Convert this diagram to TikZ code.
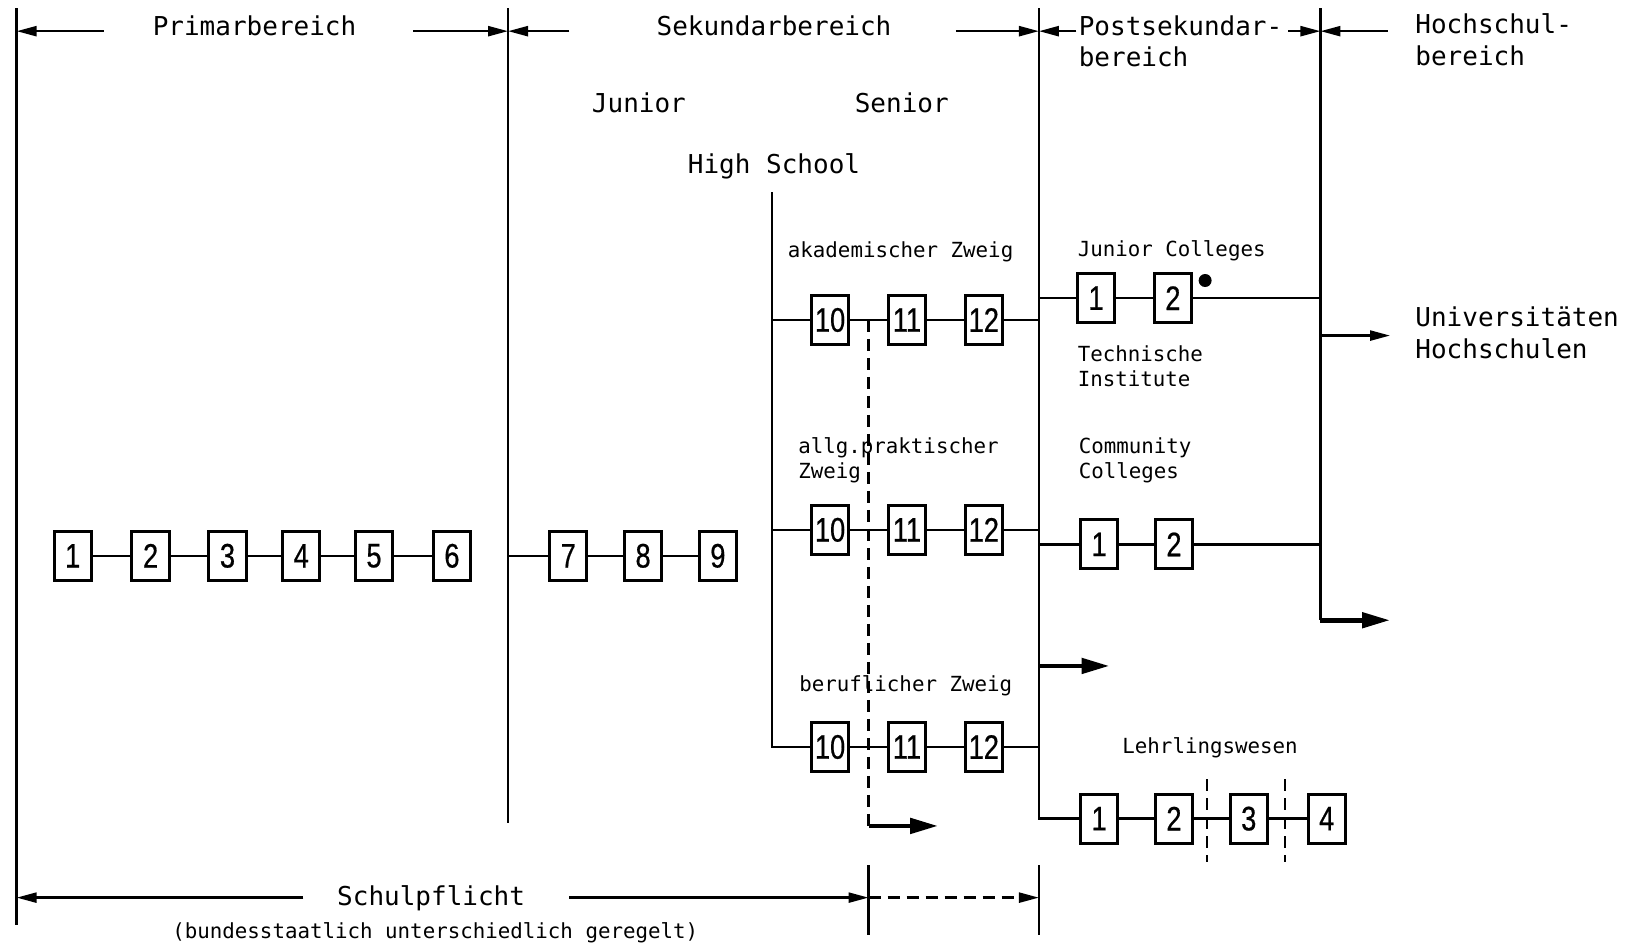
\documentclass[tikz,border=0pt]{standalone}
\usepackage{fontspec}
\usetikzlibrary{arrows.meta}
\newfontfamily\lblfont{DejaVu Sans Mono}
\newfontfamily\digfont[FakeStretch=0.8,FakeBold=0.6]{Liberation Sans}
\begin{document}
\begin{tikzpicture}[x=0.5195pt,y=-0.5195pt,
  box/.style={draw,line width=1.5pt,minimum width=18.7pt,minimum height=24.4pt,inner sep=0pt,font=\digfont\fontsize{17}{17}\selectfont},
  ln/.style={line width=1.2pt},
  arr/.style={line width=1.2pt,-{Triangle[length=10pt,width=5pt]}},
  thickarr/.style={line width=2.4pt,-{Triangle[length=14pt,width=7.5pt]}},
  bigtxt/.style={font=\lblfont\fontsize{13}{16}\selectfont,inner sep=0pt,text height=9.5pt,text depth=0pt},
  smalltxt/.style={font=\lblfont\fontsize{10.4}{12.5}\selectfont,inner sep=0pt,text height=7.6pt,text depth=0pt},
  dsh/.style={line width=1.2pt,dash pattern=on 6pt off 3.5pt}]
\useasboundingbox (0,0) rectangle (1568,910);

% main vertical lines
\coordinate (L0t) at (16,8);   \coordinate (L0b) at (16,890);
\coordinate (L1t) at (489,8);  \coordinate (L1b) at (489,792);
\coordinate (L2t) at (1000,8); \coordinate (L2b) at (1000,788);
\coordinate (L3t) at (1271,8); \coordinate (L3b) at (1271,597);
\coordinate (HSt) at (743,185); \coordinate (HSb) at (743,719);
\draw[ln] (L0t) -- (L0b);
\draw[ln] (L1t) -- (L1b);
\draw[ln] (L3t) -- (L3b);

% top labels and arrows
\node[bigtxt] (prim) at (245,25) {Primarbereich};
\node[bigtxt] (sek) at (745,25) {Sekundarbereich};
\node[bigtxt,anchor=west] (post1) at (1038,25) {Postsekundar-};
\node[bigtxt,anchor=west] (post2) at (1038,55) {bereich};
\node[bigtxt,anchor=west] (hoch1) at (1362,23) {Hochschul-};
\node[bigtxt,anchor=west] (hoch2) at (1362,54) {bereich};
\coordinate (t0) at (16,30);  \coordinate (t1) at (489,30);
\coordinate (t2) at (1000,30); \coordinate (t3) at (1271,30);
\coordinate (a1) at (100,30);  \coordinate (a2) at (398,30);
\coordinate (a3) at (548,30);  \coordinate (a4) at (920,30);
\coordinate (a5) at (1036,30); \coordinate (a6) at (1240,30);
\coordinate (a7) at (1336,30);
\draw[arr] (a1) -- (t0);
\draw[arr] (a2) -- (t1);
\draw[arr] (a3) -- (t1);
\draw[arr] (a4) -- (t2);
\draw[arr] (a5) -- (t2);
\draw[arr] (a6) -- (t3);
\draw[arr] (a7) -- (t3);

\node[bigtxt] (jun) at (615,99) {Junior};
\node[bigtxt] (sen) at (868,99) {Senior};
\node[bigtxt] (hs) at (745,158) {High School};

% primary and junior high row
\foreach \n/\x in {1/70,2/145,3/219,4/290,5/360,6/435}
  \node[box] (p\n) at (\x,535) {\n};
\foreach \n/\x in {7/547,8/619,9/691}
  \node[box] (s\n) at (\x,535) {\n};
\draw[ln] (p1) -- (p2) -- (p3) -- (p4) -- (p5) -- (p6);
\coordinate (c489) at (489,535);
\draw[ln] (c489) -- (s7) -- (s8) -- (s9);

% senior high school
\node[smalltxt,anchor=west] (akz) at (758,241) {akademischer Zweig};
\node[smalltxt,anchor=west] (apz1) at (768,429) {allg.praktischer};
\node[smalltxt,anchor=west] (apz2) at (768,453) {Zweig};
\node[smalltxt,anchor=west] (bz) at (769,658) {beruflicher Zweig};
\foreach \n/\x in {10/799,11/873,12/947}{
  \node[box] (a\n) at (\x,308) {\n};
  \node[box] (b\n) at (\x,510) {\n};
  \node[box] (c\n) at (\x,719) {\n};
}
\coordinate (ha) at (743,308); \coordinate (ea) at (1000,308);
\coordinate (hb) at (743,510); \coordinate (eb) at (1000,510);
\coordinate (ec) at (1000,719);
\draw[ln] (HSt) -- (HSb) -- (c10) -- (c11) -- (c12) -- (ec);
\draw[ln] (ha) -- (a10) -- (a11) -- (a12) -- (ea);
\draw[ln] (hb) -- (b10) -- (b11) -- (b12) -- (eb);

% dashed compulsory schooling line
\coordinate (dt) at (836,308); \coordinate (db) at (836,795); \coordinate (dend) at (903,795);
\draw[dsh] (dt) -- (db);
\draw[thickarr] (db) -- (dend);

% postsecondary
\node[smalltxt,anchor=west] (jc) at (1037,240) {Junior Colleges};
\node[smalltxt,anchor=west] (ti1) at (1037,341) {Technische};
\node[smalltxt,anchor=west] (ti2) at (1037,365) {Institute};
\node[smalltxt,anchor=west] (cc1) at (1038,429) {Community};
\node[smalltxt,anchor=west] (cc2) at (1038,453) {Colleges};
\node[smalltxt,anchor=west] (lw) at (1080,718) {Lehrlingswesen};
\node[box] (j1) at (1055,287) {1};
\node[box] (j2) at (1129,287) {2};
\node[circle,fill,inner sep=0pt,minimum size=6.5pt] (dot) at (1160,270) {};
\coordinate (ja) at (1000,287); \coordinate (jb) at (1271,287);
\draw[ln] (ja) -- (j1) -- (j2) -- (jb);
\node[box] (k1) at (1058,524) {1};
\node[box] (k2) at (1130,524) {2};
\coordinate (ka) at (1000,524); \coordinate (kb) at (1271,524);
\draw[ln] (ka) -- (k1) -- (k2) -- (kb);
\node[box] (l1) at (1058,788) {1};
\node[box] (l2) at (1130,788) {2};
\node[box] (l3) at (1202,788) {3};
\node[box] (l4) at (1277,788) {4};
\draw[ln] (L2t) -- (L2b) -- (l1) -- (l2) -- (l3) -- (l4);
\coordinate (q1t) at (1162,750); \coordinate (q1b) at (1162,830);
\coordinate (q2t) at (1237,750); \coordinate (q2b) at (1237,830);
\draw[dsh] (q1t) -- (q1b);
\draw[dsh] (q2t) -- (q2b);
\coordinate (pa) at (1000,641); \coordinate (pb) at (1068,641);
\draw[thickarr] (pa) -- (pb);

% higher education
\node[bigtxt,anchor=west] (uni1) at (1362,305) {Universitäten};
\node[bigtxt,anchor=west] (uni2) at (1362,336) {Hochschulen};
\coordinate (ua) at (1271,323); \coordinate (ub) at (1338,323);
\draw[arr] (ua) -- (ub);
\coordinate (uc) at (1338,597);
\draw[thickarr] (L3b) -- (uc);

% compulsory schooling
\node[bigtxt] (sp) at (415,862) {Schulpflicht};
\node[smalltxt] (bu) at (419,896) {(bundesstaatlich unterschiedlich geregelt)};
\coordinate (b0) at (16,864); \coordinate (bl) at (292,864);
\coordinate (br) at (548,864); \coordinate (bm) at (836,864); \coordinate (be) at (1000,864);
\coordinate (m1t) at (836,833); \coordinate (m1b) at (836,900);
\coordinate (m2t) at (1000,833); \coordinate (m2b) at (1000,900);
\draw[ln] (m1t) -- (m1b);
\draw[ln] (m2t) -- (m2b);
\draw[arr] (bl) -- (b0);
\draw[arr] (br) -- (bm);
\draw[arr,dash pattern=on 6pt off 3.5pt] (bm) -- (be);
\end{tikzpicture}
\end{document}
